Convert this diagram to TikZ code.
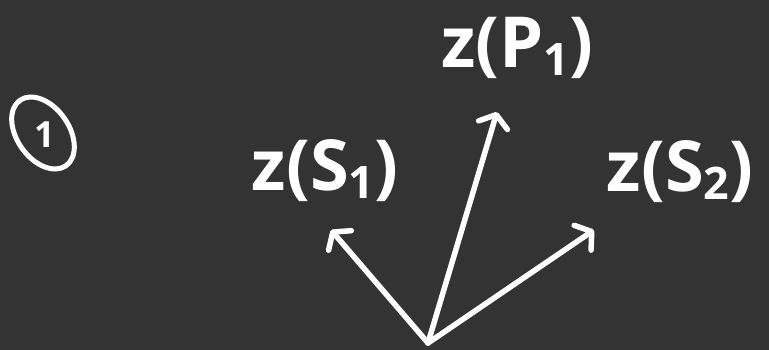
\documentclass[tikz,border=0pt]{standalone}
\usepackage{fontspec}
\setmainfont{Open Sans}
\usetikzlibrary{arrows.meta}
\definecolor{bg}{HTML}{333333}
\tikzset{
  vec/.style={white, line width=5.5pt, line cap=round, line join=round,
    -{Straight Barb[length=11pt,width=30pt,line width=5.5pt,round]}},
  lab/.style={text=white, font=\fontsize{44}{48}\selectfont\bfseries, inner sep=0pt, anchor=center}
}
\newcommand{\sbt}[1]{\raisebox{-0.2ex}{\fontsize{28}{30}\selectfont #1}}
\newcommand{\wide}[1]{\scalebox{1.6}[1.6]{#1}}
\begin{document}
\begin{tikzpicture}[x=1pt,y=-1pt]
\fill[bg] (0,0) rectangle (769,350);
\useasboundingbox (0,0) rectangle (769,350);
\coordinate (o) at (428,343);
\coordinate (p) at (497,112);
\coordinate (s1) at (331,230);
\coordinate (s2) at (594,230);
\draw[vec] (o) -- (p);
\draw[vec] (o) -- (s1);
\draw[vec] (o) -- (s2);
\node[lab] (lp) at (517,48) {\wide{z(P\sbt{1})}};
\node[lab] (ls1) at (325,171) {\wide{z(S\sbt{1})}};
\node[lab] (ls2) at (680,172) {\wide{z(S\sbt{2})}};
\draw[white, line width=5pt, rotate around={35:(43,133)}] (43,133) ellipse [x radius=26pt, y radius=40pt];
\node[lab, font=\fontsize{36}{40}\selectfont\bfseries] (one) at (45,135) {1};
\end{tikzpicture}
\end{document}
